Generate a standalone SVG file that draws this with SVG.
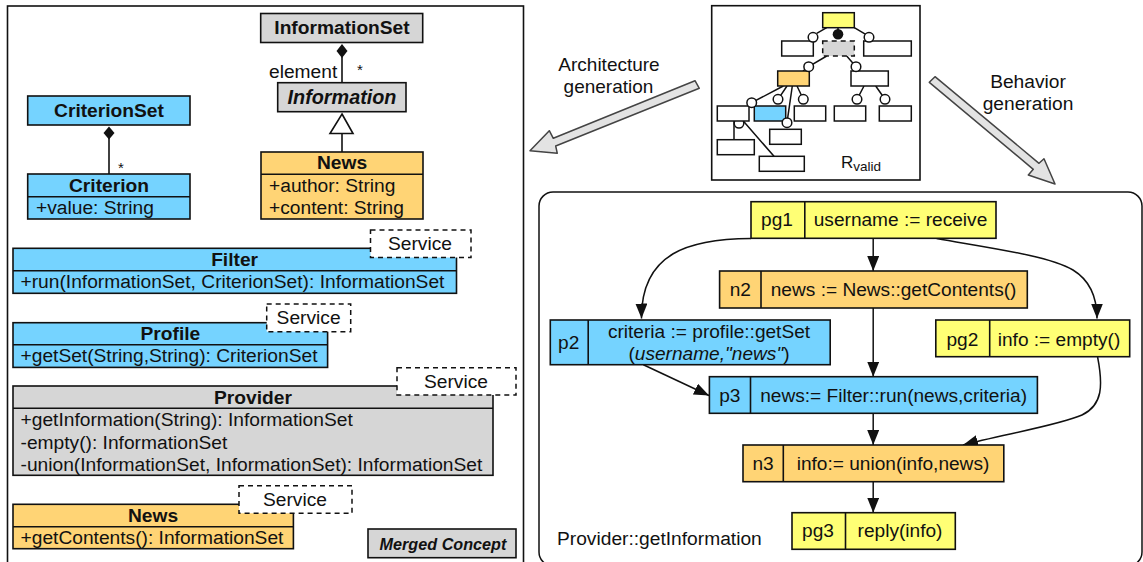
<svg xmlns="http://www.w3.org/2000/svg" width="1143" height="562" viewBox="0 0 1143 562">
<style>
text{font-family:"Liberation Sans",Arial,sans-serif;font-size:19.2px;fill:#111}
.c{text-anchor:middle}
.b{font-weight:bold}
.r{font-size:19.1px}
.box{stroke:#111;stroke-width:1.6}
.blue{fill:#75d3ff}.orange{fill:#ffd475}.yellow{fill:#ffff75}.gray{fill:#d6d6d6}.white{fill:#fff}
.dash{fill:#fff;stroke:#111;stroke-width:1.5;stroke-dasharray:5 4}
.ln{fill:none;stroke:#111;stroke-width:1.6}
.flow{fill:none;stroke:#111;stroke-width:1.5;marker-end:url(#ah)}
.dot{fill:#fff;stroke:#111;stroke-width:1.5}
.mini{stroke:#111;stroke-width:1.5}
.block{fill:#e3e3e3;stroke:#444;stroke-width:1.5;stroke-linejoin:round}
</style>
<defs>
<marker id="ah" markerUnits="userSpaceOnUse" markerWidth="16" markerHeight="13" refX="15" refY="6" orient="auto"><path d="M0,0L15,6L0,12Z" fill="#111"/></marker>
</defs>
<rect id="left-frame" x="7.5" y="6" width="516" height="570" fill="#fff" stroke="#111" stroke-width="1.6"/>
<rect id="right-frame" x="539" y="192" width="603" height="374" rx="14" fill="#fff" stroke="#111" stroke-width="1.5"/>
<g id="connectors">
<path class="ln" d="M342,57V83"/>
<path d="M342,44L347.500,51L342,58L336.500,51Z" fill="#111"/>
<path class="ln" d="M342,133V152"/>
<path d="M342,114L353,133.500H330Z" fill="#fff" stroke="#111" stroke-width="1.6"/>
<path class="ln" d="M109,138V174"/>
<path d="M109,126.500L114.500,133L109,139.500L103.500,133Z" fill="#111"/>
<polygon class="block" points="695,80.700 553.300,138.300 549.300,130.700 530,150.700 557.300,153.300 555.700,146 699.300,88.300"/>
<polygon class="block" points="929.300,82.300 1033.300,169.300 1028.300,175 1055,184 1044,158.700 1039,163.300 935,76.700"/>
<path class="flow" d="M873.200,238.300V271"/>
<path class="flow" d="M873.200,308V376.700"/>
<path class="flow" d="M873.200,413.300V445"/>
<path class="flow" d="M873.200,481.700V512.700"/>
<path class="flow" d="M751,238.500C690,239 641,252 641.500,318.500"/>
<path class="flow" d="M936.600,238.500C990,248 1050,256 1073,270C1091,281 1097,298 1097,318.500"/>
<path class="flow" d="M1097.600,357C1103,385 1103,405 1082,415C1060,425 1000,435 963,445"/>
<path class="flow" d="M643.400,364.700L709,395.500"/>
</g>
<g id="InformationSet"><rect class="box gray" x="260.700" y="13.500" width="162" height="29"/><text class="c b" x="342" y="33.500">InformationSet</text></g>
<g id="Information"><rect class="box gray" x="277.700" y="82.700" width="128.300" height="29"/><text class="c b" style="font-style:italic;font-size:19.800px" x="342" y="104">Information</text></g>
<g id="element-label"><text x="269" y="78">element</text><text x="360" y="75" class="c" style="font-size:15px">*</text></g>
<g id="News-concept"><rect class="box orange" x="261" y="152" width="162" height="67"/><path class="ln" d="M261,174.300H423"/><text class="c b" x="342" y="169">News</text><text x="269" y="191.700">+author: String</text><text x="269" y="214">+content: String</text></g>
<g id="CriterionSet"><rect class="box blue" x="27.700" y="96" width="162.300" height="29"/><text class="c b" x="109" y="116.700">CriterionSet</text></g>
<g id="Criterion"><rect class="box blue" x="27.700" y="174" width="162.300" height="45"/><path class="ln" d="M27.700,196.700H190"/><text class="c b" x="109" y="191.700">Criterion</text><text x="36" y="214">+value: String</text><text x="121" y="173" class="c" style="font-size:15px">*</text></g>
<g id="Filter"><rect class="box blue" x="13" y="248.300" width="443.500" height="45"/><path class="ln" d="M13,270.700H456.500"/><text class="c b" x="234.600" y="266.300">Filter</text><text x="20.500" y="288.300">+run(InformationSet, CriterionSet): InformationSet</text></g>
<g id="Filter-service"><rect class="dash" x="370.500" y="230" width="100.500" height="27.500"/><text class="c" x="420" y="250">Service</text></g>
<g id="Profile"><rect class="box blue" x="13" y="322.700" width="314.600" height="44.700"/><path class="ln" d="M13,344.700H327.600"/><text class="c b" x="170.400" y="340">Profile</text><text x="20.500" y="362.300">+getSet(String,String): CriterionSet</text></g>
<g id="Profile-service"><rect class="dash" x="266.700" y="304" width="84" height="27.700"/><text class="c" x="308.600" y="324">Service</text></g>
<g id="Provider"><rect class="box gray" x="13" y="386" width="480" height="89.300"/><path class="ln" d="M13,408.300H493"/><text class="c b" x="253" y="404">Provider</text><text x="20.500" y="426.300">+getInformation(String): InformationSet</text><text x="20.500" y="449.300">-empty(): InformationSet</text><text x="20.500" y="471">-union(InformationSet, InformationSet): InformationSet</text></g>
<g id="Provider-service"><rect class="dash" x="397" y="367.700" width="119" height="27.300"/><text class="c" x="456" y="388.300">Service</text></g>
<g id="News-service-class"><rect class="box orange" x="13" y="504.300" width="280.400" height="44.400"/><path class="ln" d="M13,526.700H293.400"/><text class="c b" x="153" y="522.300">News</text><text x="20.500" y="544.300">+getContents(): InformationSet</text></g>
<g id="News-service"><rect class="dash" x="239" y="485.700" width="113" height="27.600"/><text class="c" x="295" y="506">Service</text></g>
<g id="Merged-Concept"><rect class="box gray" x="368" y="529" width="148" height="28.700"/><text class="c b" style="font-style:italic;font-size:16.200px" x="443" y="550">Merged Concept</text></g>
<g id="arch-label"><text class="c" style="font-size:19px" x="609" y="70.700">Architecture</text><text class="c" style="font-size:19px" x="608.500" y="92.500">generation</text></g>
<g id="behavior-label"><text class="c" style="font-size:19.200px" x="1028" y="88">Behavior</text><text class="c" style="font-size:19.200px" x="1028" y="110">generation</text></g>
<g id="Rvalid">
<rect x="711.700" y="5.700" width="208.300" height="174.300" fill="#fff" stroke="#111" stroke-width="1.600"/>
<path class="mini" fill="none" d="M816.700,33.300L826.700,27.700M865.700,34.300L854.300,27.700M838,27.700V34M826.700,56L808.700,66.700L803,71M846.700,56L856,66.700L860,71M783.300,86L751.700,102.700M787,86L778,99.300M797,86L803.300,99.300M864,86L857,99.300M875.700,86L885,99.300M734,121V139.700M743.300,121L774,156.300"/>
<circle class="dot" cx="739" cy="123.300" r="4.800"/>
<rect class="mini yellow" x="822.700" y="12.700" width="31.600" height="15"/>
<rect class="mini white" x="781.700" y="41" width="31.600" height="15"/>
<rect class="gray" x="822.700" y="41" width="31.600" height="15" stroke="#111" stroke-width="1.500" stroke-dasharray="5 4"/>
<rect class="mini white" x="863.700" y="41" width="47.600" height="15"/>
<rect class="mini orange" x="777.700" y="71" width="31.600" height="15"/>
<rect class="mini white" x="851" y="71" width="37.300" height="15"/>
<rect class="mini white" x="717.300" y="106" width="31.700" height="15"/>
<rect class="mini blue" x="754.300" y="106" width="31.400" height="15"/>
<rect class="mini white" x="794.300" y="106" width="31.400" height="15"/>
<rect class="mini white" x="834.300" y="106" width="31.400" height="15"/>
<rect class="mini white" x="879.300" y="106" width="32" height="15"/>
<rect class="mini white" x="769.700" y="129.300" width="31.600" height="15"/>
<rect class="mini white" x="717.300" y="139.700" width="37" height="15"/>
<rect class="mini white" x="759.300" y="156.300" width="45" height="15"/>
<path class="mini" fill="none" d="M792.300,86L787,122.700"/>
<circle cx="838" cy="34.300" r="5.300" fill="#111"/>
<circle class="dot" cx="813" cy="37.300" r="4.800"/>
<circle class="dot" cx="869" cy="37.300" r="4.800"/>
<circle class="dot" cx="808.700" cy="66.700" r="4.800"/>
<circle class="dot" cx="856" cy="66.700" r="4.800"/>
<circle class="dot" cx="751.700" cy="102.700" r="4.800"/>
<circle class="dot" cx="778" cy="99.300" r="4.800"/>
<circle class="dot" cx="803.300" cy="99.300" r="4.800"/>
<circle class="dot" cx="857" cy="99.300" r="4.800"/>
<circle class="dot" cx="885" cy="99.300" r="4.800"/>
<circle class="dot" cx="787" cy="122.700" r="4.800"/>
<text x="841" y="167.700" style="font-size:17px">R<tspan dy="3" style="font-size:13.500px">valid</tspan></text>
</g>
<g id="pg1"><rect class="box yellow" x="751" y="201.700" width="245" height="36.600"/><path class="ln" d="M804.800,201.700V238.300"/><text class="c r" x="777" y="226">pg1</text><text class="c r" x="900.500" y="226">username := receive</text></g>
<g id="n2"><rect class="box orange" x="719.600" y="271" width="307.700" height="37"/><path class="ln" d="M761,271V308"/><text class="c r" x="740.300" y="296">n2</text><text class="c r" x="893.600" y="296">news := News::getContents()</text></g>
<g id="p2"><rect class="box blue" x="550.300" y="320" width="279.900" height="44.700"/><path class="ln" d="M588.200,320V364.700"/><text class="c r" x="568.700" y="349">p2</text><text class="c r" x="709" y="338.300">criteria := profile::getSet</text><text class="c r" x="709" y="360">(<tspan font-style="italic">username,"news"</tspan>)</text></g>
<g id="pg2"><rect class="box yellow" x="935.800" y="320" width="193.900" height="36.700"/><path class="ln" d="M989.700,320V356.700"/><text class="c r" x="962.400" y="346">pg2</text><text class="c r" x="1059" y="346">info := empty()</text></g>
<g id="p3"><rect class="box blue" x="709.400" y="376.700" width="328" height="36.600"/><path class="ln" d="M750.500,376.700V413.300"/><text class="c r" x="729.800" y="402.300">p3</text><text class="c r" x="893.600" y="402.300">news:= Filter::run(news,criteria)</text></g>
<g id="n3"><rect class="box orange" x="743" y="445" width="260.800" height="36.700"/><path class="ln" d="M783.300,445V481.700"/><text class="c r" x="763" y="470">n3</text><text class="c r" x="893" y="470">info:= union(info,news)</text></g>
<g id="pg3"><rect class="box yellow" x="792" y="512.700" width="163.300" height="36.600"/><path class="ln" d="M845.500,512.700V549.300"/><text class="c r" x="818" y="537.300">pg3</text><text class="c r" x="900" y="537.300">reply(info)</text></g>
<g id="behavior-title"><text x="557" y="545">Provider::getInformation</text></g>
</svg>
